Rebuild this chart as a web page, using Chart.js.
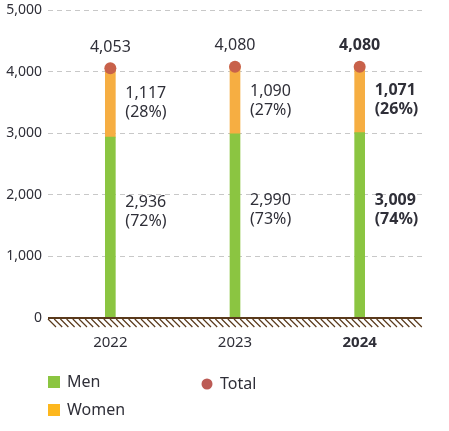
<!DOCTYPE html>
<html>
<head>
<meta charset="utf-8">
<script src="https://cdn.jsdelivr.net/npm/chart.js@4.4.1/dist/chart.umd.min.js"></script>
<style>
  html, body { margin: 0; padding: 0; background: #fff; }
  #wrap { width: 449px; height: 431px; position: relative; }
</style>
</head>
<body>
<div id="wrap"><canvas id="myChart"></canvas></div>
<script>
//DATA
const years = ["2022", "2023", "2024"];
const men = [2936, 2990, 3009];
const women = [1117, 1090, 1071];
const total = [4053, 4080, 4080];
const menPct = ["(72%)", "(73%)", "(74%)"];
const womenPct = ["(28%)", "(27%)", "(26%)"];
const yTicks = [0, 1000, 2000, 3000, 4000, 5000];

const textColor = "#2f2f38";
const fontFamily = "'Noto Sans', 'Open Sans', sans-serif";

function fmt(v) {
  return v.toLocaleString("en-US");
}

//DRAW THE HATCHED ZERO LINE, THE VALUE LABELS AND THE LEGEND
const extras = {
  id: "extras",
  afterDatasetsDraw(chart) {
    const ctx = chart.ctx;
    const x = chart.scales.x;
    const y = chart.scales.y;
    const area = chart.chartArea;
    const y0 = y.getPixelForValue(0);

    // ground line with hatches
    ctx.save();
    ctx.strokeStyle = "#5a3a1c";
    ctx.lineWidth = 2;
    ctx.beginPath();
    ctx.moveTo(area.left, y0);
    ctx.lineTo(area.right, y0);
    ctx.stroke();
    ctx.lineWidth = 1.2;
    ctx.beginPath();
    for (let hx = area.left; hx < area.right - 8; hx += 6.2) {
      ctx.moveTo(hx, y0 + 1);
      ctx.lineTo(hx + 8, y0 + 9);
    }
    ctx.stroke();
    ctx.restore();

    // labels
    ctx.save();
    ctx.fillStyle = textColor;
    ctx.textBaseline = "middle";
    for (let i = 0; i < years.length; i++) {
      const cx = x.getPixelForValue(i);
      const bold = i === years.length - 1;
      ctx.font = (bold ? "bold " : "") + "16px " + fontFamily;

      ctx.textAlign = "center";
      ctx.fillText(fmt(total[i]), cx, y.getPixelForValue(total[i]) - 21);

      ctx.textAlign = "left";
      const wMid = y.getPixelForValue(men[i] + women[i] / 2);
      ctx.fillText(fmt(women[i]), cx + 15, wMid - 9);
      ctx.fillText(womenPct[i], cx + 15, wMid + 10);

      const mMid = y.getPixelForValue(men[i] / 2) - 16;
      ctx.fillText(fmt(men[i]), cx + 15, mMid - 9);
      ctx.fillText(menPct[i], cx + 15, mMid + 10);
    }
    ctx.restore();
  },
  afterDraw(chart) {
    //LEGEND IN TWO COLUMNS: MEN, WOMEN ON THE LEFT, TOTAL ON THE RIGHT
    const ctx = chart.ctx;
    const byLabel = {};
    chart.data.datasets.forEach((d) => (byLabel[d.label] = d));
    const items = [
      { d: byLabel["Men"], x: 48, y: 382 },
      { d: byLabel["Women"], x: 48, y: 410 },
      { d: byLabel["Total"], x: 201, y: 384 },
    ];
    ctx.save();
    ctx.font = "16px " + fontFamily;
    ctx.textBaseline = "middle";
    ctx.textAlign = "left";
    items.forEach((it) => {
      ctx.fillStyle = it.d.legendColor;
      if (it.d.type === "line") {
        ctx.beginPath();
        ctx.arc(it.x + 6, it.y, 5.5, 0, Math.PI * 2);
        ctx.fill();
      } else {
        ctx.fillRect(it.x, it.y - 6, 12, 12);
      }
      ctx.fillStyle = textColor;
      ctx.fillText(it.d.label, it.x + 19, it.y);
    });
    ctx.restore();
  },
};

const data = {
  labels: years,
  datasets: [
    {
      type: "line",
      label: "Total",
      data: total,
      showLine: false,
      pointRadius: 6,
      pointHoverRadius: 6,
      pointBackgroundColor: "#c8614a",
      pointBorderWidth: 0,
      borderColor: "#c8614a",
      legendColor: "#bc5b55",
      order: 0,
    },
    {
      type: "bar",
      label: "Men",
      data: men,
      backgroundColor: "#8bc541",
      legendColor: "#8bc541",
      barThickness: 10,
      order: 1,
    },
    {
      type: "bar",
      label: "Women",
      data: women,
      backgroundColor: "#f6ae42",
      legendColor: "#fdb71e",
      barThickness: 10,
      order: 1,
    },
  ],
};

const config = {
  data: data,
  options: {
    responsive: true,
    maintainAspectRatio: false,
    animation: false,
    layout: { padding: { top: 10, right: 27, left: 0, bottom: 0 } },
    plugins: {
      legend: { display: false },
      tooltip: { enabled: false },
    },
    scales: {
      x: {
        stacked: true,
        grid: { display: false },
        border: { display: false },
        ticks: {
          color: textColor,
          padding: 8,
          font: (c) => ({
            family: fontFamily,
            size: 15,
            weight: c.index === 2 ? "bold" : "normal",
          }),
        },
        afterFit: (scale) => {
          scale.height = 113;
        },
      },
      y: {
        stacked: true,
        min: 0,
        max: 5000,
        afterBuildTicks: (scale) => {
          scale.ticks = yTicks.map((v) => ({ value: v }));
        },
        grid: {
          color: (c) => (c.tick && c.tick.value === 0 ? "rgba(0,0,0,0)" : "#c8c8c8"),
          drawTicks: false,
          lineWidth: 1,
        },
        border: { display: false, dash: [5, 4] },
        ticks: {
          color: textColor,
          padding: 6,
          font: { family: fontFamily, size: 14 },
          callback: (v) => fmt(v),
        },
        afterFit: (scale) => {
          scale.width = 48;
          scale.paddingTop = 0;
          scale.paddingBottom = 0;
        },
      },
    },
  },
  plugins: [extras],
};

const myChart = new Chart(document.getElementById("myChart"), config);
</script>
</body>
</html>
